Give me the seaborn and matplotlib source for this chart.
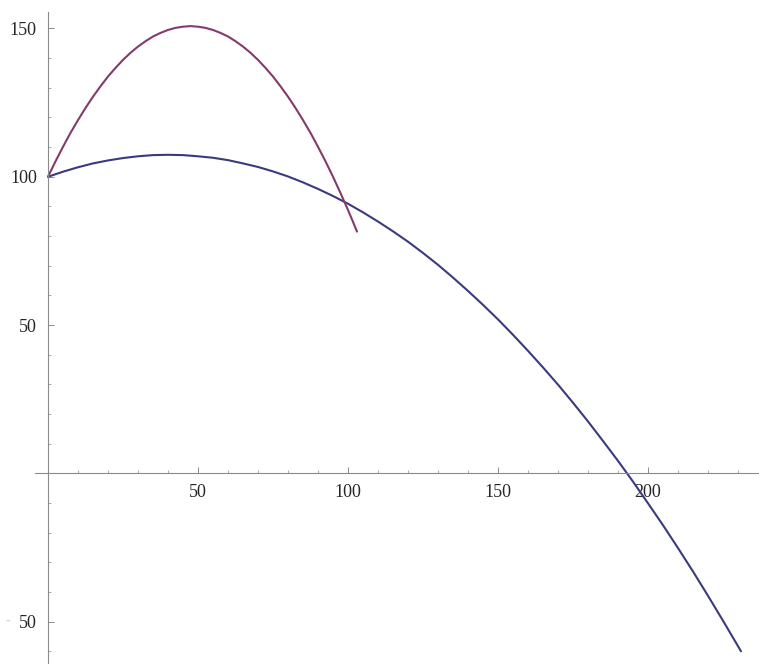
import matplotlib
matplotlib.use("Agg")
import matplotlib.pyplot as plt
import seaborn as sns
import pandas as pd
from matplotlib.ticker import FixedLocator

# ---------- data ----------
blue_x = [0, 5, 10, 15, 20, 25, 30, 35, 40, 45, 50, 55, 60, 65, 70, 75,
          80, 85, 90, 95, 100, 105, 110, 115, 120, 125, 130, 135, 140,
          145, 150, 155, 160, 165, 170, 175, 180, 185, 190, 195, 200,
          205, 210, 215, 220, 225, 231]
blue_y = [100, 101.7, 103.2, 104.5, 105.5, 106.3, 106.9, 107.3, 107.4,
          107.3, 106.9, 106.4, 105.6, 104.5, 103.3, 101.8, 100.1, 98.1,
          95.9, 93.5, 90.9, 88.0, 84.9, 81.6, 78.1, 74.3, 70.3, 66.0,
          61.5, 56.8, 51.9, 46.7, 41.3, 35.7, 29.9, 23.8, 17.5, 10.9,
          4.2, -2.8, -10.1, -17.5, -25.2, -33.1, -41.3, -49.7, -60.0]

purple_x = [0, 2.5, 5, 7.5, 10, 12.5, 15, 17.5, 20, 22.5, 25, 27.5, 30,
            32.5, 35, 37.5, 40, 42.5, 45, 47.5, 50, 52.5, 55, 57.5, 60,
            62.5, 65, 67.5, 70, 72.5, 75, 77.5, 80, 82.5, 85, 87.5, 90,
            92.5, 95, 97.5, 100, 101.5, 103]
purple_y = [100, 105.2, 110.1, 114.8, 119.1, 123.2, 127.0, 130.5, 133.8,
            136.7, 139.4, 141.8, 143.9, 145.7, 147.3, 148.5, 149.5, 150.2,
            150.6, 150.8, 150.6, 150.2, 149.5, 148.5, 147.3, 145.7, 143.9,
            141.8, 139.4, 136.7, 133.8, 130.5, 127.0, 123.2, 119.1, 114.8,
            110.1, 105.2, 100, 94.5, 88.8, 85.2, 81.5]

x_ticks = [50, 100, 150, 200]
x_minor = [10, 20, 30, 40, 60, 70, 80, 90, 110, 120, 130, 140, 160, 170,
           180, 190, 210, 220, 230]
y_ticks = [-50, 50, 100, 150]
y_minor = [-60, -40, -30, -20, -10, 10, 20, 30, 40, 60, 70, 80, 90, 110,
           120, 130, 140]
y_tick_labels = ["50", "50", "100", "150"]

# ---------- style ----------
sns.set_style("white")
plt.rcParams["font.family"] = ["Liberation Serif", "DejaVu Serif"]

blue_df = pd.DataFrame({"x": blue_x, "y": blue_y})
purple_df = pd.DataFrame({"x": purple_x, "y": purple_y})

fig = plt.figure(figsize=(7.59, 6.64), dpi=100)
ax = fig.add_axes([0, 0, 1, 1])

sns.lineplot(data=blue_df, x="x", y="y", sort=False, ax=ax,
             color="#3a3a80", linewidth=1.5)
sns.lineplot(data=purple_df, x="x", y="y", sort=False, ax=ax,
             color="#843a6a", linewidth=1.5)

ax.set_xlim(-16, 237)
ax.set_ylim(-64.3, 159.6)

for side in ["top", "right"]:
    ax.spines[side].set_visible(False)
ax.spines["left"].set_position(("data", 0))
ax.spines["bottom"].set_position(("data", 0))
ax.spines["left"].set_bounds(-64.3, 155.5)
ax.spines["bottom"].set_bounds(-4.3, 237)
for side in ["left", "bottom"]:
    ax.spines[side].set_color("#8a8a8a")
    ax.spines[side].set_linewidth(0.8)

ax.xaxis.set_major_locator(FixedLocator(x_ticks))
ax.xaxis.set_minor_locator(FixedLocator(x_minor))
ax.yaxis.set_major_locator(FixedLocator(y_ticks))
ax.yaxis.set_minor_locator(FixedLocator(y_minor))
ax.set_xticklabels([str(v) for v in x_ticks])
ax.set_yticklabels(y_tick_labels)

# seaborn "white" hides ticks, switch them back on
ax.tick_params(which="both", bottom=True, left=True)
ax.tick_params(which="major", direction="in", length=4, width=0.7,
               color="#8a8a8a", labelsize=13, pad=8)
ax.tick_params(which="minor", direction="in", length=2.5, width=0.6,
               color="#a0a0a0")

# faint minus sign in front of the lower y label
ax.text(-13.5, -50, "-", color="#d0d0d0", fontsize=10,
        ha="center", va="center")

ax.set_xlabel("")
ax.set_ylabel("")

fig.savefig("out.png", dpi=100)
